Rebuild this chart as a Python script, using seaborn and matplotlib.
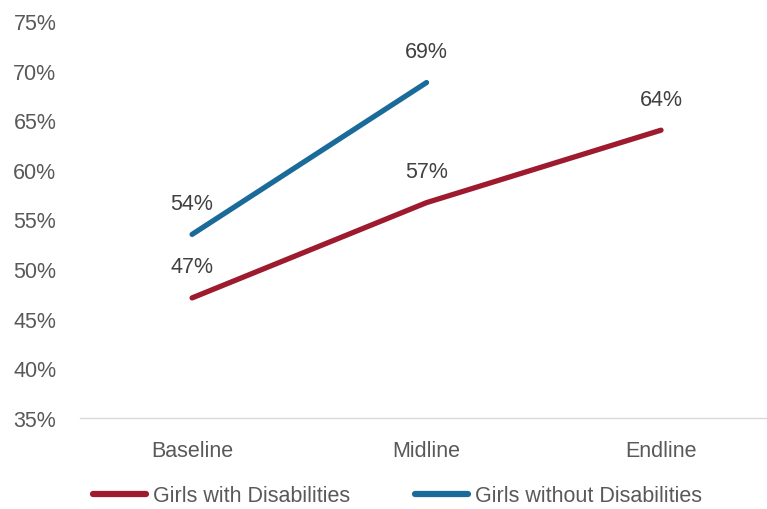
import pandas as pd
import matplotlib.pyplot as plt
import seaborn as sns
from matplotlib.ticker import PercentFormatter

# ================= DATA =================
rounds = ["Baseline", "Midline", "Endline"]
with_disab = [0.471, 0.567, 0.640]
without_disab = [0.535, 0.688, None]
with_labels = ["47%", "57%", "64%"]
without_labels = ["54%", "69%", None]

series_names = ["Girls with Disabilities", "Girls without Disabilities"]
colors = ["#9E1A2E", "#1A6B9A"]

df = pd.DataFrame({
    "Round": rounds * 2,
    "Value": with_disab + without_disab,
    "Group": [series_names[0]] * 3 + [series_names[1]] * 3,
}).dropna()

# ================= STYLE =================
sns.set_theme(style="white")
plt.rcParams["font.family"] = ["Liberation Sans", "DejaVu Sans"]
TEXT = "#595959"

fig = plt.figure(figsize=(7.67, 5.10), dpi=100)
ax = fig.add_axes([80 / 767, 1 - 419 / 510, 687 / 767, (419 - 22) / 510])

sns.lineplot(data=df, x="Round", y="Value", hue="Group", palette=colors,
             hue_order=series_names, linewidth=3.8, ax=ax, sort=False)

# data labels
for vals, labs in [(with_disab, with_labels), (without_disab, without_labels)]:
    for i, (v, lab) in enumerate(zip(vals, labs)):
        if v is None:
            continue
        ax.annotate(lab, (i, v), xytext=(0, 31), textcoords="offset pixels",
                    ha="center", va="center", fontsize=15.5, color="#404040")

ax.set_xlim(-0.478, 2.452)
ax.set_ylim(0.35, 0.75)
ax.set_yticks([0.35, 0.40, 0.45, 0.50, 0.55, 0.60, 0.65, 0.70, 0.75])
ax.yaxis.set_major_formatter(PercentFormatter(1.0, decimals=0))
ax.tick_params(axis="both", length=0, labelsize=15.5, labelcolor=TEXT)
ax.tick_params(axis="y", pad=17)
ax.tick_params(axis="x", pad=16)
ax.set_xlabel("")
ax.set_ylabel("")

for side in ["top", "right", "left"]:
    ax.spines[side].set_visible(False)
ax.spines["bottom"].set_color("#D9D9D9")
ax.spines["bottom"].set_linewidth(1)

ax.get_legend().remove()
handles, labels = ax.get_legend_handles_labels()
leg = fig.legend(handles, labels, loc="center left", bbox_to_anchor=(84 / 767, 1 - 497 / 510),
                 ncol=2, frameon=False, fontsize=15.5, handlelength=2.5,
                 handletextpad=0.3, columnspacing=3.0, borderaxespad=0)
for t in leg.get_texts():
    t.set_color(TEXT)
for h in leg.get_lines():
    h.set_linewidth(4.5)
    h.set_solid_capstyle("round")

plt.savefig("out.png", dpi=100)
plt.close()
